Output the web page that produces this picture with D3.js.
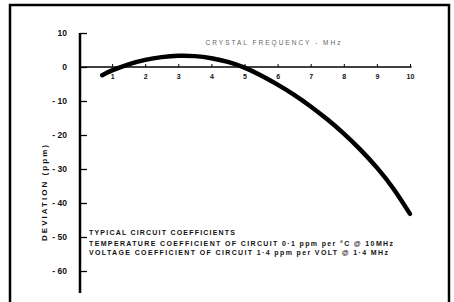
<!DOCTYPE html>
<html>
<head>
<meta charset="utf-8">
<script src="https://cdn.jsdelivr.net/npm/d3@7"></script>
<style>
  html, body { margin: 0; padding: 0; background: #fff; }
  svg { display: block; font-family: "Liberation Sans", Arial, sans-serif; }
</style>
</head>
<body>
<svg id="chart" width="454" height="302"></svg>
<script>
// crystal frequency (MHz) vs deviation (ppm)
const freqMHz = [0.7, 1, 1.5, 2, 2.5, 3, 3.5, 4, 4.5, 5, 5.5, 6, 6.5, 7, 7.5, 8, 8.5, 9, 9.5, 10];
const deviationPpm = [-2.4, -1.0, 0.8, 2.1, 2.9, 3.3, 3.2, 2.6, 1.5, -0.2, -2.5, -5.2, -8.2, -11.6, -15.4, -19.6, -24.3, -29.6, -35.8, -43.2];

const xTicks = [1, 2, 3, 4, 5, 6, 7, 8, 9, 10];
const yTicks = [10, 0, -10, -20, -30, -40, -50, -60];

const xTitle = "CRYSTAL  FREQUENCY  -  MHz";
const yTitle = "DEVIATION  (ppm)";
const notes = [
  "TYPICAL  CIRCUIT  COEFFICIENTS",
  "TEMPERATURE  COEFFICIENT  OF  CIRCUIT  0\u00b71 ppm  per  \u00b0C  @  10MHz",
  "VOLTAGE  COEFFICIENT  OF  CIRCUIT  1\u00b74 ppm  per  VOLT  @  1\u00b74  MHz",
];

const svg = d3.select("#chart");

// outer frame
svg.append("rect")
  .attr("x", 10).attr("y", 5)
  .attr("width", 439).attr("height", 305)
  .attr("fill", "none")
  .attr("stroke", "#000")
  .attr("stroke-width", 2.5);

const x = d3.scaleLinear().domain([0, 10]).range([79, 410]);
const y = d3.scaleLinear().domain([-60, 10]).range([271, 33]);

// y axis: ticks pointing right, labels on the left
const yAxis = svg.append("g")
  .attr("transform", `translate(${x(0) + 1},0)`)
  .call(d3.axisLeft(y)
    .tickValues(yTicks)
    .tickSizeInner(-7)
    .tickSizeOuter(0)
    .tickPadding(13)
    .tickFormat((d) => (d < 0 ? "- " + Math.abs(d) : String(d))));
yAxis.select(".domain")
  .attr("d", `M0,${y(10)}V${y(-66.5)}`)
  .attr("stroke-width", 2.5);
yAxis.selectAll(".tick line").attr("stroke-width", 1.3);
yAxis.selectAll(".tick text")
  .attr("font-size", 8.5)
  .attr("font-weight", "bold")
  .attr("fill", "#111");

// x axis along zero, small ticks up, labels below
const xAxis = svg.append("g")
  .attr("transform", `translate(0,${y(0)})`)
  .call(d3.axisBottom(x)
    .tickValues(xTicks)
    .tickSizeInner(-3)
    .tickSizeOuter(0)
    .tickPadding(7));
xAxis.select(".domain")
  .attr("d", `M${x(0)},0H${x(10.05)}`)
  .attr("stroke-width", 1.5);
xAxis.selectAll(".tick text")
  .attr("font-size", 7)
  .attr("font-weight", "bold")
  .attr("fill", "#111");

// axis titles
svg.append("text")
  .attr("x", 273).attr("y", 45)
  .attr("text-anchor", "middle")
  .attr("font-size", 6.5)
  .attr("fill", "#666")
  .attr("textLength", 135)
  .attr("lengthAdjust", "spacing")
  .text(xTitle);

svg.append("text")
  .attr("transform", "translate(47,193) rotate(-90)")
  .attr("text-anchor", "middle")
  .attr("font-size", 8)
  .attr("font-weight", "bold")
  .attr("fill", "#111")
  .attr("textLength", 96)
  .attr("lengthAdjust", "spacing")
  .text(yTitle);

// the curve
const line = d3.line()
  .x((d, i) => x(freqMHz[i]))
  .y((d) => y(d))
  .curve(d3.curveNatural);

svg.append("path")
  .datum(deviationPpm)
  .attr("d", line)
  .attr("fill", "none")
  .attr("stroke", "#000")
  .attr("stroke-width", 4.5)
  .attr("stroke-linecap", "round");

// coefficient notes
const noteY = [235, 245.5, 254.5];
const noteW = [146, 304, 299];
svg.append("g")
  .selectAll("text")
  .data(notes)
  .join("text")
  .attr("x", 89)
  .attr("y", (d, i) => noteY[i])
  .attr("font-size", 7)
  .attr("font-weight", "bold")
  .attr("fill", "#111")
  .attr("textLength", (d, i) => noteW[i])
  .attr("lengthAdjust", "spacing")
  .text((d) => d);
</script>
</body>
</html>
